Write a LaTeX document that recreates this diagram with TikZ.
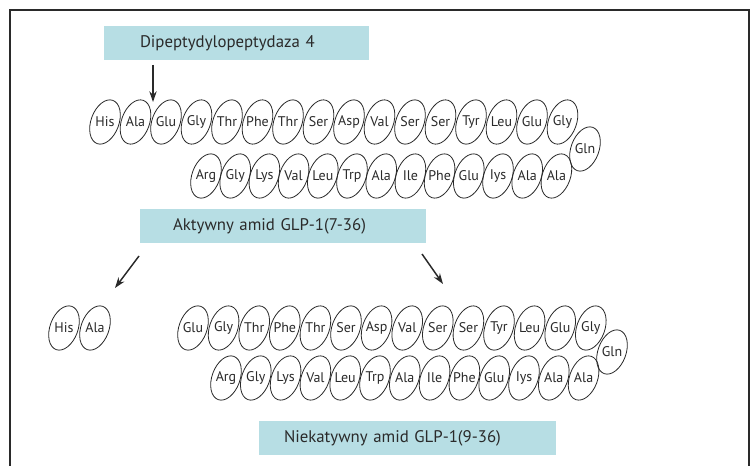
\documentclass[tikz,border=0pt]{standalone}
\usepackage{fontspec}
\setmainfont{PT Sans}
\usetikzlibrary{shapes.geometric,arrows.meta}
\definecolor{boxblue}{HTML}{B7DEE4}
\definecolor{ink}{HTML}{2A2A2A}
\tikzset{
  res/.style={draw=ink, ellipse, line width=0.6pt, minimum width=21pt, minimum height=34.5pt, inner sep=0pt, rotate=-20},
  lbl/.style={text=ink, font=\fontsize{10.5}{12}\selectfont, inner sep=0pt},
  banner/.style={fill=boxblue, text=ink, font=\fontsize{12.6}{14}\selectfont, align=left, inner ysep=0pt, minimum height=25.5pt},
  arr/.style={draw=ink, line width=1.1pt, -{Stealth[length=8pt,width=5.5pt]}}
}
\begin{document}
\begin{tikzpicture}[x=0.75pt,y=-0.75pt]
\useasboundingbox (0,0) rectangle (752,466);
\clip (0,0) rectangle (752,466);
\fill[white] (0,0) rectangle (752,466);
\draw[ink, line width=1pt] (10,490) -- (10,10) -- (749,10) -- (749,490);
% banners
\node[banner, text width=144.75pt, inner xsep=27pt] (dpp) at (236.5,43) {Dipeptydylopeptydaza 4};
\node[banner, text width=165pt, inner xsep=24.75pt] (akt) at (283,226) {Aktywny amid GLP-1(7-36)};
\node[banner, text width=185.25pt, inner xsep=18.75pt] (niek) at (407.5,438) {Niekatywny amid GLP-1(9-36)};
% upper chain
\foreach \t [count=\i] in {His,Ala,Glu,Gly,Thr,Phe,Thr,Ser,Asp,Val,Ser,Ser,Tyr,Leu,Glu,Gly}{
  \node[res] (ua\i) at ({105+30.5*(\i-1)},122) {};
  \node[lbl] (uat\i) at (ua\i) {\t};
}
\node[res] (ug) at (585,149) {};
\node[lbl] (ugt) at (ug) {Gln};
\foreach \t [count=\i] in {Arg,Gly,Lys,Val,Leu,Trp,Ala,Ile,Phe,Glu,Iys,Ala,Ala}{
  \node[res] (ub\i) at ({206+29.2*(\i-1)},176) {};
  \node[lbl] (ubt\i) at (ub\i) {\t};
}
% lower: cleaved dipeptide
\node[res] (h1) at (64,328) {};
\node[lbl] (ht1) at (h1) {His};
\node[res] (h2) at (95,328) {};
\node[lbl] (ht2) at (h2) {Ala};
% lower chain
\foreach \t [count=\i] in {Glu,Gly,Thr,Phe,Thr,Ser,Asp,Val,Ser,Ser,Tyr,Leu,Glu,Gly}{
  \node[res] (la\i) at ({193+30.6*(\i-1)},328) {};
  \node[lbl] (lat\i) at (la\i) {\t};
}
\node[res] (lg) at (612,352) {};
\node[lbl] (lgt) at (lg) {Gln};
\foreach \t [count=\i] in {Arg,Gly,Lys,Val,Leu,Trp,Ala,Ile,Phe,Glu,Iys,Ala,Ala}{
  \node[res] (lb\i) at ({226+29.8*(\i-1)},378) {};
  \node[lbl] (lbt\i) at (lb\i) {\t};
}
% arrows
\coordinate (c1) at (153,65);
\coordinate (c2) at (153,102);
\draw[arr] (c1) -- (c2);
\coordinate (l1) at (139,256);
\coordinate (l2) at (115,288);
\draw[arr] (l1) -- (l2);
\coordinate (r1) at (422,254);
\coordinate (r2) at (443,284);
\draw[arr] (r1) -- (r2);
\end{tikzpicture}
\end{document}
